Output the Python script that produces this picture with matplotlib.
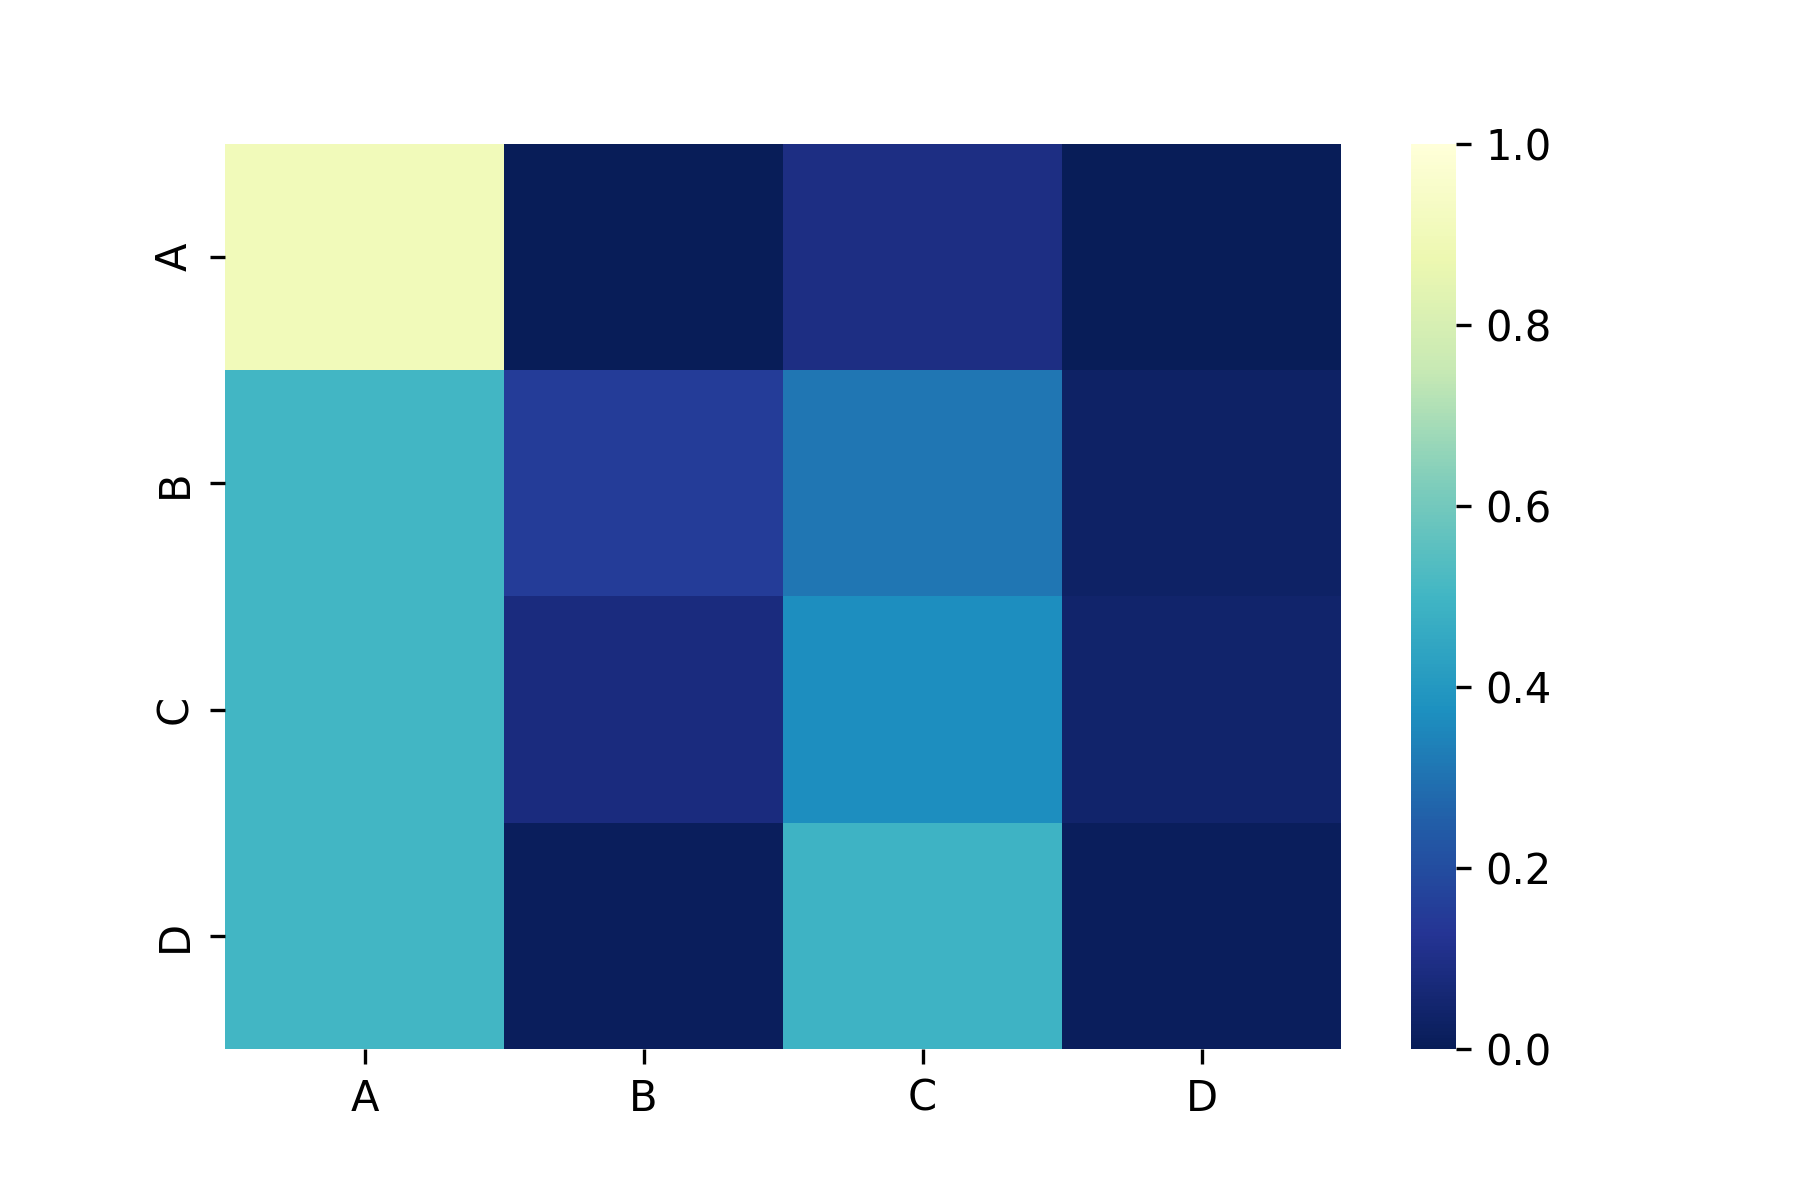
import matplotlib
matplotlib.use("Agg")
import matplotlib.pyplot as plt
import seaborn as sns
import numpy as np
import pandas as pd

labels = ["A", "B", "C", "D"]
row_A = [0.90, 0.00, 0.09, 0.00]
row_B = [0.50, 0.15, 0.31, 0.03]
row_C = [0.50, 0.08, 0.37, 0.04]
row_D = [0.50, 0.01, 0.49, 0.01]

df = pd.DataFrame([row_A, row_B, row_C, row_D], index=labels, columns=labels)

fig, ax = plt.subplots(figsize=(6, 4), dpi=300)
fig.subplots_adjust(bottom=0.126)
sns.heatmap(df, cmap="YlGnBu_r", vmin=0, vmax=1, ax=ax)
fig.savefig("out.png", dpi=300)
